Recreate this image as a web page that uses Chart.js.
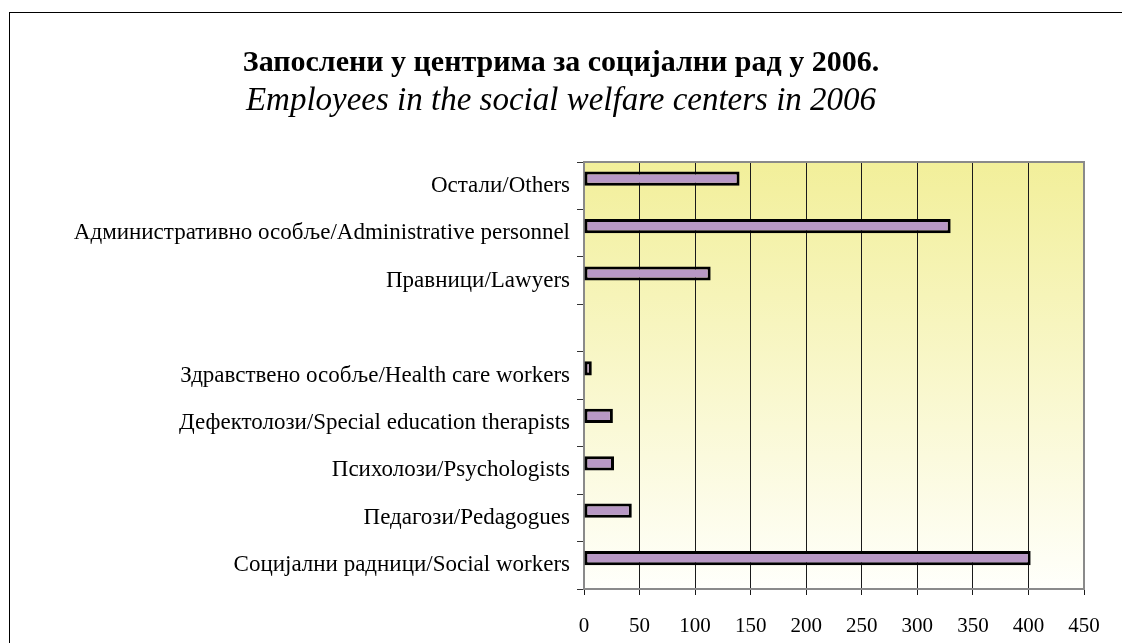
<!DOCTYPE html>
<html><head><meta charset="utf-8">
<script src="https://cdn.jsdelivr.net/npm/chart.js@4.4.1/dist/chart.umd.min.js"></script>
<style>
html,body{margin:0;padding:0;background:#fff;overflow:hidden}
#wrap{position:relative;width:1122px;height:643px;overflow:hidden}
#frame{position:absolute;left:9px;top:12px;width:1300px;height:800px;border-left:1px solid #000;border-top:1px solid #000}
canvas{position:absolute;left:0;top:0}
</style></head><body>
<div id="wrap"><div id="frame"></div><canvas id="c" width="1122" height="643"></canvas></div>
<script>
const titleText = "Запослени у центрима за социјални рад у 2006.";
const subtitleText = "Employees in the social welfare centers in 2006";
const categories = [
  "Остали/Others",
  "Административно особље/Administrative personnel",
  "Правници/Lawyers",
  "",
  "Здравствено особље/Health care workers",
  "Дефектолози/Special education therapists",
  "Психолози/Psychologists",
  "Педагози/Pedagogues",
  "Социјални радници/Social workers"
];
const employees2006 = [140, 330, 114, null, 7, 26, 27, 43, 402];
const emptySeries = [null, null, null, null, null, null, null, null, null];
const xTickValues = [0, 50, 100, 150, 200, 250, 300, 350, 400, 450];

const SERIF = "'Liberation Serif', 'Times New Roman', serif";

const bgPlugin = {
  id: 'bg',
  beforeDraw(chart) {
    const {ctx, chartArea: a} = chart;
    const g = ctx.createLinearGradient(0, a.top, 0, a.bottom);
    g.addColorStop(0, '#F2EF9A');
    g.addColorStop(1, '#FFFFFB');
    ctx.save();
    ctx.fillStyle = g;
    ctx.fillRect(a.left, a.top, a.right - a.left, a.bottom - a.top);
    ctx.restore();
  },
  afterDraw(chart) {
    const {ctx, chartArea: a} = chart;
    ctx.save();
    ctx.strokeStyle = '#8a8a8a';
    ctx.lineWidth = 2;
    ctx.beginPath();
    ctx.moveTo(a.left, a.top);
    ctx.lineTo(a.right, a.top);
    ctx.lineTo(a.right, a.bottom);
    ctx.stroke();
    ctx.restore();
  }
};

new Chart(document.getElementById('c'), {
  type: 'bar',
  data: {
    labels: categories,
    datasets: [
      {
        label: '2006',
        data: employees2006,
        backgroundColor: '#B898C5',
        borderColor: '#000000',
        borderWidth: 3,
        borderSkipped: false,
        categoryPercentage: 0.6,
        barPercentage: 1
      },
      {
        label: '',
        data: emptySeries,
        backgroundColor: '#B898C5',
        borderColor: '#000000',
        borderWidth: 3,
        borderSkipped: false,
        categoryPercentage: 0.6,
        barPercentage: 1
      }
    ]
  },
  options: {
    indexAxis: 'y',
    responsive: false,
    animation: false,
    devicePixelRatio: 1,
    layout: { padding: { left: 38, right: 38, top: 0, bottom: 0 } },
    plugins: {
      legend: { display: false },
      tooltip: { enabled: false },
      title: {
        display: true,
        text: titleText,
        color: '#000',
        font: { family: SERIF, size: 30, weight: 'bold', lineHeight: 1.2 },
        padding: { top: 45.5, bottom: 0 }
      },
      subtitle: {
        display: true,
        text: subtitleText,
        color: '#000',
        font: { family: SERIF, size: 33, style: 'italic', weight: 'normal', lineHeight: 1.2 },
        padding: { top: 0, bottom: 40.9 }
      }
    },
    scales: {
      x: {
        min: 0,
        max: 450,
        afterBuildTicks: s => { s.ticks = xTickValues.map(v => ({ value: v })); },
        afterFit: s => { s.height = 54; },
        ticks: { color: '#000', font: { family: SERIF, size: 21 }, padding: 19, maxRotation: 0 },
        grid: { color: '#1a1a1a', lineWidth: 1, tickLength: 6, drawTicks: true },
        border: { color: '#8a8a8a', width: 2 }
      },
      y: {
        afterFit: s => { s.width = 546; },
        ticks: { color: '#000', font: { family: SERIF, size: 23 }, padding: 7, autoSkip: false },
        grid: { drawOnChartArea: false, drawTicks: true, tickLength: 7, color: '#333', lineWidth: 1, offset: true },
        border: { color: '#8a8a8a', width: 2 }
      }
    }
  },
  plugins: [bgPlugin]
});
</script>
</body></html>
